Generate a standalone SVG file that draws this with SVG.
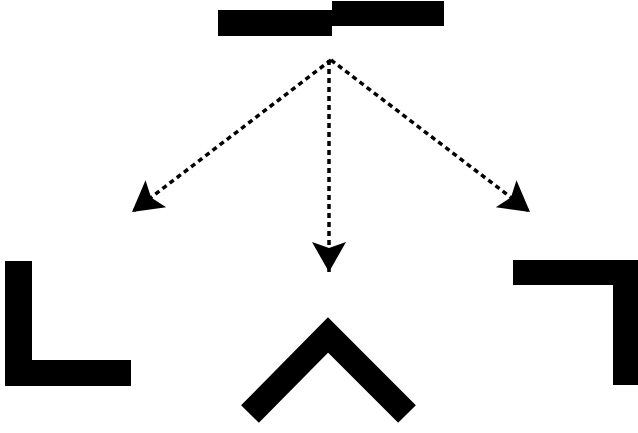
<svg xmlns="http://www.w3.org/2000/svg" width="638" height="433" viewBox="0 0 638 433">
<style>
.shape{fill:#000;stroke:none}
.conn{fill:none;stroke:#000;stroke-width:3.5;stroke-dasharray:5 4}
</style>
<defs>
<marker id="ah" markerUnits="userSpaceOnUse" markerWidth="40" markerHeight="40" viewBox="-34 -20 40 40" refX="0" refY="0" orient="auto">
<path d="M0,0 L-30,-17 L-24,0 L-30,17 Z" fill="#000"/>
</marker>
</defs>
<rect width="638" height="433" fill="#fff"/>
<g id="top">
<rect class="shape" x="218" y="10" width="114" height="26"/>
<rect class="shape" x="332" y="1" width="112" height="25"/>
</g>
<g id="connectors">
<line class="conn" x1="331" y1="60" x2="132" y2="212" marker-end="url(#ah)"/>
<line class="conn" x1="329" y1="60" x2="329" y2="272" marker-end="url(#ah)"/>
<line class="conn" x1="331" y1="60" x2="530" y2="212" marker-end="url(#ah)"/>
</g>
<g id="left">
<path class="shape" d="M5,261 H32 V360 H131 V386 H5 Z"/>
</g>
<g id="middle">
<polyline points="250,414 328,335 407,414" fill="none" stroke="#000" stroke-width="25" stroke-linejoin="miter" stroke-miterlimit="10"/>
</g>
<g id="right">
<path class="shape" d="M513,260 H638 V385 H613 V285 H513 Z"/>
</g>
</svg>
